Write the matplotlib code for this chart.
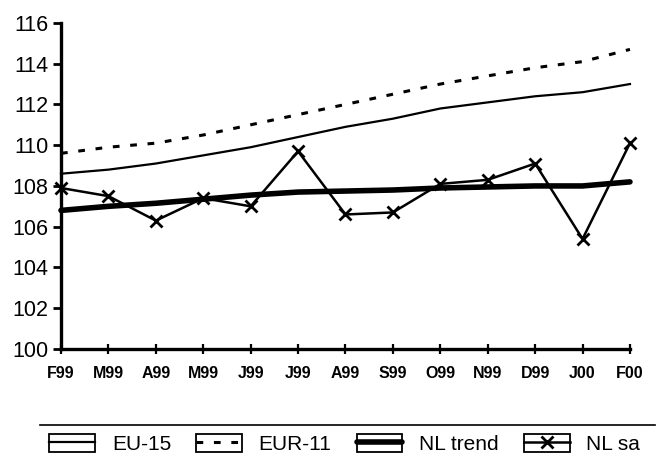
import matplotlib
matplotlib.use("Agg")
import matplotlib.pyplot as plt
from matplotlib.legend_handler import HandlerLine2D
from matplotlib.patches import Rectangle
from matplotlib.lines import Line2D

# months Feb 1999 - Feb 2000
months = ["F99", "M99", "A99", "M99", "J99", "J99", "A99", "S99", "O99", "N99", "D99", "J00", "F00"]
eu15 = [108.6, 108.8, 109.1, 109.5, 109.9, 110.4, 110.9, 111.3, 111.8, 112.1, 112.4, 112.6, 113.0]
eur11 = [109.6, 109.9, 110.1, 110.5, 111.0, 111.5, 112.0, 112.5, 113.0, 113.4, 113.8, 114.1, 114.7]
nl_trend = [106.8, 107.0, 107.15, 107.35, 107.55, 107.7, 107.75, 107.8, 107.9, 107.95, 108.0, 108.0, 108.2]
nl_sa = [107.9, 107.5, 106.3, 107.4, 107.0, 109.7, 106.6, 106.7, 108.1, 108.3, 109.1, 105.4, 110.1]
yticks = list(range(100, 117, 2))


class BoxHandler(HandlerLine2D):
    # legend key drawn as a line inside a small rectangle
    def create_artists(self, legend, orig_handle, xdescent, ydescent,
                       width, height, fontsize, trans):
        arts = super().create_artists(legend, orig_handle, xdescent, ydescent,
                                      width, height, fontsize, trans)
        box = Rectangle((-xdescent, -ydescent), width, height, fill=False,
                        ec="black", lw=1.3, transform=trans)
        return [box] + arts


fig = plt.figure(figsize=(6.58, 4.58), dpi=100)
ax = fig.add_axes([0.0927, 0.238, 0.8647, 0.712])

x = list(range(len(months)))
l1, = ax.plot(x, eu15, color="black", lw=1.6, label="EU-15")
l2, = ax.plot(x, eur11, color="black", lw=2.2, ls=(0, (2.2, 3.5)), label="EUR-11")
l3, = ax.plot(x, nl_trend, color="black", lw=4, solid_capstyle="round", label="NL trend")
l4, = ax.plot(x, nl_sa, color="black", lw=1.8, marker="x", ms=8, mew=2, label="NL sa")

ax.set_xlim(0, len(months) - 1)
ax.set_ylim(100, 116)
ax.set_yticks(yticks)
ax.set_xticks(x)
ax.set_xticklabels(months, fontsize=11.5, fontweight="bold", family="Liberation Sans")
ax.set_yticklabels([str(v) for v in yticks], fontsize=15.5, family="Liberation Sans")
ax.tick_params(axis="y", direction="out", length=6, width=2, pad=3)
ax.tick_params(axis="x", direction="inout", length=7, width=1.6, pad=9)
for s in ["top", "right"]:
    ax.spines[s].set_visible(False)
for s in ["left", "bottom"]:
    ax.spines[s].set_linewidth(2.4)
for ln in (l1, l2, l3, l4):
    ln.set_clip_on(False)

# separator line above legend
fig.add_artist(Line2D([0.061, 0.995], [0.072, 0.072], color="black", lw=1.2,
                      transform=fig.transFigure))

handles = [l1, l2, l3, l4]
fig.legend(handles=handles, labels=[h.get_label() for h in handles],
           handler_map={Line2D: BoxHandler(numpoints=1)},
           loc="center", bbox_to_anchor=(0.524, 0.03), ncol=4, frameon=False,
           prop={"family": "Liberation Sans", "size": 15},
           handlelength=2.2, handleheight=0.9, handletextpad=0.8, columnspacing=1.2,
           borderpad=0, borderaxespad=0)

fig.savefig("out.png", dpi=100, facecolor="white")
